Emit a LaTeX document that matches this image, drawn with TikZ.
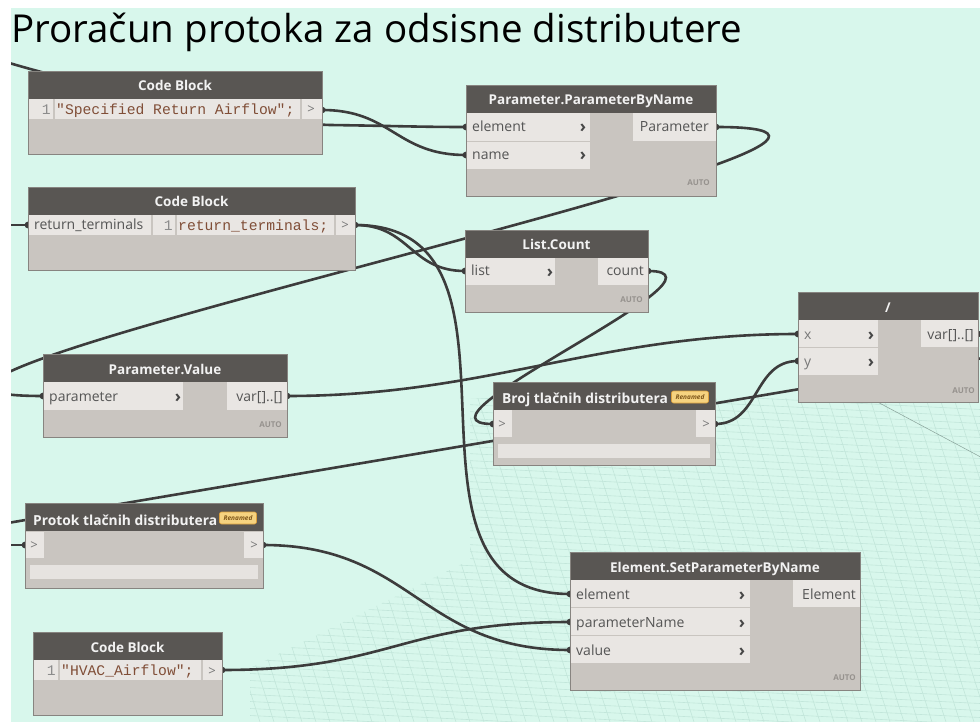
\documentclass[tikz,border=0pt]{standalone}
\usepackage{fontspec}
\setmainfont{Open Sans}
\setmonofont{Liberation Mono}
\definecolor{canvas}{RGB}{216,247,236}
\definecolor{headc}{RGB}{89,86,83}
\definecolor{headt}{RGB}{242,242,242}
\definecolor{bodyc}{RGB}{201,197,192}
\definecolor{cellc}{RGB}{233,230,227}
\definecolor{fieldc}{RGB}{230,227,224}
\definecolor{bordc}{RGB}{135,132,128}
\definecolor{wirec}{RGB}{60,60,60}
\definecolor{portt}{RGB}{85,85,85}
\definecolor{chevc}{RGB}{70,70,70}
\definecolor{thinc}{RGB}{120,120,120}
\definecolor{autoc}{RGB}{150,146,142}
\definecolor{codec}{RGB}{128,78,55}
\definecolor{lnumc}{RGB}{140,140,140}
\definecolor{badgef}{RGB}{246,211,128}
\definecolor{badged}{RGB}{220,160,60}
\definecolor{badget}{RGB}{125,85,25}
\definecolor{gridc}{RGB}{194,230,218}
\newcommand\dynbox[6]{%
  \node[nbody, minimum width=#4pt, minimum height=#5pt] (#1) at (#2,#3) {};
  \node[nhead, minimum width=#4pt] (#1-h) at (#2,#3) {#6};}
\newcommand\dynframe[1]{\draw[nframe] (#1.north west) rectangle (#1.south east);}
\begin{document}
\begin{tikzpicture}[x=1pt,y=-1pt,
  nbody/.style={fill=bodyc, inner sep=0pt, outer sep=0pt, anchor=north west, rectangle},
  nframe/.style={draw=bordc, line width=0.8pt},
  nhead/.style={fill=headc, inner sep=0pt, outer sep=0pt, anchor=north west, minimum height=28pt, text height=13pt, text depth=1pt, text=headt, font=\fontsize{13.5}{14}\selectfont\bfseries},
  htitle/.style={anchor=base west, inner sep=0pt, text=headt, font=\fontsize{13.8}{14}\selectfont\bfseries},
  pcell/.style={fill=cellc, inner sep=0pt, outer sep=0pt, anchor=north west},
  field/.style={fill=fieldc, inner sep=0pt, outer sep=0pt, anchor=north west},
  plabel/.style={anchor=base west, inner sep=0pt, text=portt, font=\fontsize{14}{14}\selectfont},
  olabel/.style={anchor=base east, inner sep=0pt, text=portt, font=\fontsize{14}{14}\selectfont},
  chev/.style={anchor=base, inner sep=0pt, text=chevc, font=\fontsize{17}{17}\selectfont\bfseries},
  thinchev/.style={anchor=base, inner sep=0pt, text=thinc, font=\fontsize{13}{13}\selectfont},
  autol/.style={anchor=base east, inner sep=0pt, text=autoc, font=\fontsize{8}{8}\selectfont\bfseries},
  codel/.style={anchor=base west, inner sep=0pt, text=codec, font=\fontsize{14.7}{15}\ttfamily},
  lnum/.style={anchor=base east, inner sep=0pt, text=lnumc, font=\fontsize{14.7}{15}\ttfamily},
  sepl/.style={draw=bodyc, line width=2pt},
  badge/.style={fill=badgef, draw=badged, line width=0.6pt, rounded corners=2pt, inner sep=0pt, minimum width=37pt, minimum height=12pt, text=badget, font=\fontsize{6.5}{7}\selectfont\bfseries\itshape},
  wire/.style={draw=wirec, line width=2.6pt, line cap=round},
  nub/.style={fill=wirec},
  gridl/.style={draw=gridc, line width=0.6pt},
  titlef/.style={anchor=base west, inner sep=0pt, text=black, font=\fontsize{38.5}{40}\selectfont}
]
\useasboundingbox (0,0) rectangle (980,722);
\fill[white] (0,0) rectangle (980,722);
\fill[canvas] (11,8) rectangle (980,722);
\begin{scope}
\clip (11,8) rectangle (980,722);
% perspective grid
\begin{scope}
\clip (470,398) -- (980,398) -- (980,722) -- (250,722) -- (250,668) -- (470,560) -- cycle;
\foreach \i in {0,...,52} { \draw[gridl] (240,{372+\i*7}) -- (990,{372+\i*7+38}); }
\foreach \i in {0,...,62} { \draw[gridl] ({150+\i*14},380) -- ({150+\i*14+110},722); }
\draw[draw=gridc!70!black, line width=0.5pt] (870,398) -- (990,462);
\end{scope}

\node[titlef] (title) at (11,43) {Proračun protoka za odsisne distributere};

% port coordinates
\coordinate (cba-out) at (322,110);
\coordinate (ppbn-el) at (466,127);
\coordinate (ppbn-nm) at (466,155);
\coordinate (ppbn-out) at (716,127);
\coordinate (cbb-in) at (28,225);
\coordinate (cbb-out) at (355,225);
\coordinate (lc-in) at (465,271);
\coordinate (lc-out) at (648,271);
\coordinate (pv-in) at (43,396);
\coordinate (pv-out) at (287,396);
\coordinate (broj-in) at (493,424);
\coordinate (broj-out) at (715,424);
\coordinate (dv-x) at (798,334);
\coordinate (dv-y) at (798,361);
\coordinate (dv-out) at (978,334);
\coordinate (pt-in) at (25,545);
\coordinate (pt-out) at (263,545);
\coordinate (esp-el) at (570,594);
\coordinate (esp-pn) at (570,622);
\coordinate (esp-val) at (570,650);
\coordinate (cbc-out) at (222,670);
% free ends off canvas
\coordinate (offA) at (-10,57);
\coordinate (offB) at (0,225);
\coordinate (offC) at (-10,526);
\coordinate (offD) at (995,356);
\coordinate (offE) at (0,545);

% wires
\draw[wire] (offA) .. controls (60,80) and (240,122) .. (330,125) .. controls (400,126) and (420,127) .. (ppbn-el);
\draw[wire] (cba-out) .. controls +(70,0) and +(-70,0) .. (ppbn-nm);
\draw[wire] (ppbn-out) .. controls +(330,0) and +(-330,0) .. (pv-in);
\draw[wire] (offB) -- (cbb-in);
\draw[wire] (cbb-out) .. controls +(55,0) and +(-55,0) .. (lc-in);
\draw[wire] (cbb-out) .. controls +(200,0) and +(-200,0) .. (esp-el);
\draw[wire] (lc-out) .. controls +(100,0) and +(-100,0) .. (broj-in);
\draw[wire] (pv-out) .. controls +(200,0) and +(-200,0) .. (dv-x);
\draw[wire] (broj-out) .. controls +(45,0) and +(-45,0) .. (dv-y);
\draw[wire] (offC) -- (offD);
\draw[wire] (offE) -- (pt-in);
\draw[wire] (pt-out) .. controls +(150,0) and +(-150,0) .. (esp-val);
\draw[wire] (cbc-out) .. controls +(170,0) and +(-170,0) .. (esp-pn);

% nubs
\foreach \p in {cba-out,ppbn-el,ppbn-nm,ppbn-out,cbb-in,cbb-out,lc-in,lc-out,pv-in,pv-out,broj-in,broj-out,dv-x,dv-y,dv-out,pt-in,pt-out,esp-el,esp-pn,esp-val,cbc-out}
  { \fill[nub] (\p) circle (3.4pt); }

% ---- Code Block 1
\dynbox{cba}{28}{71}{294}{83}{Code Block}
\node[pcell, minimum width=294pt, minimum height=20pt] (cba-r) at (28,99) {};
\draw[sepl] (54,99) -- (54,119);
\draw[sepl] (301,99) -- (301,119);
\node[lnum] (cba-n) at (51,114.5) {1};
\node[codel] (cba-c) at (56,114.5) {"Specified Return Airflow";};
\node[thinchev] (cba-k) at (311,114) {>};
\dynframe{cba}

% ---- Parameter.ParameterByName
\dynbox{ppbn}{466}{85}{250}{111}{Parameter.ParameterByName}
\node[pcell, minimum width=124pt, minimum height=28pt] (ppbn-c1) at (466,113) {};
\node[pcell, minimum width=124pt, minimum height=27pt] (ppbn-c2) at (466,142) {};
\node[pcell, minimum width=83pt, minimum height=28pt] (ppbn-c3) at (633,113) {};
\node[plabel] (ppbn-t1) at (472,132) {element};
\node[plabel] (ppbn-t2) at (472,160) {name};
\node[chev] (ppbn-k1) at (583,133) {›};
\node[chev] (ppbn-k2) at (583,161) {›};
\node[olabel] (ppbn-t3) at (709,132) {Parameter};
\node[autol] (ppbn-a) at (710,186) {AUTO};
\dynframe{ppbn}

% ---- Code Block 2
\dynbox{cbb}{28}{187}{327}{83}{Code Block}
\node[pcell, minimum width=327pt, minimum height=20pt] (cbb-r) at (28,215) {};
\draw[sepl] (151.5,215) -- (151.5,235);
\draw[sepl] (175.5,215) -- (175.5,235);
\draw[sepl] (334.5,215) -- (334.5,235);
\node[plabel] (cbb-t1) at (34,230) {return\_terminals};
\node[lnum] (cbb-n) at (173,230.5) {1};
\node[codel] (cbb-c) at (178,230.5) {return\_terminals;};
\node[thinchev] (cbb-k) at (345,230) {>};
\dynframe{cbb}

% ---- List.Count
\dynbox{lc}{465}{230}{183}{82}{List.Count}
\node[pcell, minimum width=90pt, minimum height=27pt] (lc-c1) at (465,258) {};
\node[pcell, minimum width=50pt, minimum height=27pt] (lc-c2) at (598,258) {};
\node[plabel] (lc-t1) at (471,276) {list};
\node[chev] (lc-k1) at (550,277) {›};
\node[olabel] (lc-t2) at (644,276) {count};
\node[autol] (lc-a) at (643,302) {AUTO};
\dynframe{lc}

% ---- Parameter.Value
\dynbox{pv}{43}{354}{244}{83}{Parameter.Value}
\node[pcell, minimum width=140pt, minimum height=28pt] (pv-c1) at (43,382) {};
\node[pcell, minimum width=60pt, minimum height=28pt] (pv-c2) at (227,382) {};
\node[plabel] (pv-t1) at (49,401) {parameter};
\node[chev] (pv-k1) at (178,402) {›};
\node[olabel] (pv-t2) at (283,401) {var[]..[]};
\node[autol] (pv-a) at (282,427) {AUTO};
\dynframe{pv}

% ---- Broj tlacnih distributera
\dynbox{broj}{493}{382}{222}{83}{}
\node[htitle] (broj-t) at (502,403) {Broj tlačnih distributera};
\node[badge] (broj-b) at (690,397) {Renamed};
\node[pcell, minimum width=19pt, minimum height=27pt] (broj-c1) at (493,410) {};
\node[pcell, minimum width=19pt, minimum height=27pt] (broj-c2) at (696,410) {};
\node[field, minimum width=212pt, minimum height=14pt] (broj-f) at (498,444) {};
\node[thinchev] (broj-k1) at (502,428) {>};
\node[thinchev] (broj-k2) at (706,428) {>};
\dynframe{broj}

% ---- division
\dynbox{dv}{798}{292}{180}{110}{/}
\node[pcell, minimum width=80pt, minimum height=27pt] (dv-c1) at (798,320) {};
\node[pcell, minimum width=80pt, minimum height=27pt] (dv-c2) at (798,348) {};
\node[pcell, minimum width=57pt, minimum height=27pt] (dv-c3) at (921,320) {};
\node[plabel, text=thinc] (dv-t1) at (804,339) {x};
\node[plabel, text=thinc] (dv-t2) at (804,366) {y};
\node[chev] (dv-k1) at (871,340) {›};
\node[chev] (dv-k2) at (871,367) {›};
\node[olabel] (dv-t3) at (974,339) {var[]..[]};
\node[autol] (dv-a) at (975,393) {AUTO};
\dynframe{dv}

% ---- Protok tlacnih distributera
\dynbox{pt}{25}{503}{238}{85}{}
\node[htitle] (pt-t) at (33,525) {Protok tlačnih distributera};
\node[badge] (pt-b) at (238,518) {Renamed};
\node[pcell, minimum width=19pt, minimum height=26pt] (pt-c1) at (25,532) {};
\node[pcell, minimum width=19pt, minimum height=26pt] (pt-c2) at (244,532) {};
\node[field, minimum width=228pt, minimum height=14pt] (pt-f) at (30,565) {};
\node[thinchev] (pt-k1) at (34,549) {>};
\node[thinchev] (pt-k2) at (254,549) {>};
\dynframe{pt}

% ---- Element.SetParameterByName
\dynbox{esp}{570}{552}{290}{138}{Element.SetParameterByName}
\node[pcell, minimum width=180pt, minimum height=27pt] (esp-c1) at (570,580) {};
\node[pcell, minimum width=180pt, minimum height=27pt] (esp-c2) at (570,608) {};
\node[pcell, minimum width=180pt, minimum height=27pt] (esp-c3) at (570,636) {};
\node[pcell, minimum width=67pt, minimum height=27pt] (esp-c4) at (793,580) {};
\node[plabel] (esp-t1) at (576,599) {element};
\node[plabel] (esp-t2) at (576,627) {parameterName};
\node[plabel] (esp-t3) at (576,655) {value};
\node[chev] (esp-k1) at (742,600) {›};
\node[chev] (esp-k2) at (742,628) {›};
\node[chev] (esp-k3) at (742,656) {›};
\node[olabel] (esp-t4) at (856,599) {Element};
\node[autol] (esp-a) at (856,680) {AUTO};
\dynframe{esp}

% ---- Code Block 3
\dynbox{cbc}{33}{632}{189}{83}{Code Block}
\node[pcell, minimum width=189pt, minimum height=20pt] (cbc-r) at (33,660) {};
\draw[sepl] (59,660) -- (59,680);
\draw[sepl] (201.5,660) -- (201.5,680);
\node[lnum] (cbc-n) at (56,675.5) {1};
\node[codel] (cbc-c) at (61,675.5) {"HVAC\_Airflow";};
\node[thinchev] (cbc-k) at (212,675) {>};
\dynframe{cbc}
\end{scope}
\end{tikzpicture}
\end{document}
